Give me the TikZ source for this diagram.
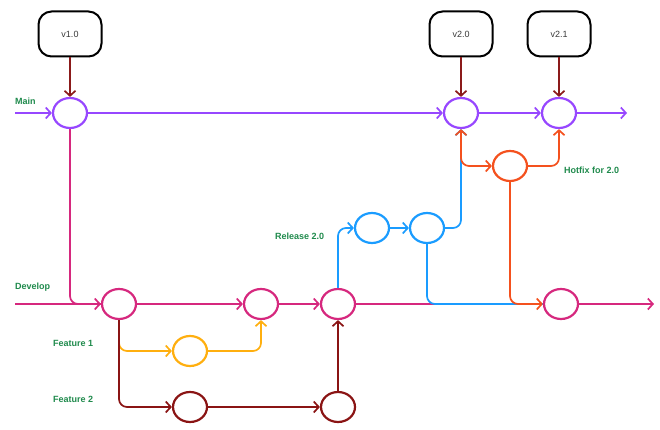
\documentclass[tikz,border=0pt]{standalone}
\usepackage{fontspec}
\setmainfont{Liberation Sans}
\usetikzlibrary{shapes.geometric,arrows.meta}
\definecolor{cmain}{HTML}{9747FF}
\definecolor{cdev}{HTML}{D6287E}
\definecolor{crel}{HTML}{1A9CFF}
\definecolor{cfa}{HTML}{FFAF0F}
\definecolor{cfb}{HTML}{8A1414}
\definecolor{chot}{HTML}{F4511E}
\definecolor{ctag}{HTML}{8B1A1A}
\definecolor{clab}{HTML}{1F8A4C}
\tikzset{
  commit/.style={ellipse,draw,line width=2.2pt,minimum width=34pt,minimum height=30pt,inner sep=0pt,fill=white},
  tagbox/.style={draw=black,line width=2pt,rounded corners=13pt,minimum width=63pt,minimum height=45pt,text=black!78,font=\fontsize{9}{10}\selectfont},
  lab/.style={anchor=west,text=clab,font=\bfseries\fontsize{9}{10}\selectfont,inner sep=0pt},
  tip/.style={-{Straight Barb[length=5pt,width=11pt,line width=1.7pt]}},
  bothtips/.style={{Straight Barb[length=5pt,width=11pt,line width=1.7pt]}-{Straight Barb[length=5pt,width=11pt,line width=1.7pt]}},
  ln/.style={line width=1.7pt,rounded corners=8pt},
}
\begin{document}
\begin{tikzpicture}[x=1pt,y=-1pt]
\useasboundingbox (0,0) rectangle (660,430);
% tags
\node[tagbox] (t1) at (70,34) {v1.0};
\node[tagbox] (t2) at (461,34) {v2.0};
\node[tagbox] (t3) at (559,34) {v2.1};
% main
\coordinate (ms) at (15,113);
\coordinate (me) at (627,113);
\node[commit,draw=cmain] (m1) at (70,113) {};
\node[commit,draw=cmain] (m2) at (461,113) {};
\node[commit,draw=cmain] (m3) at (559,113) {};
% hotfix
\node[commit,draw=chot] (hf) at (510,166) {};
% release
\node[commit,draw=crel] (r1) at (372,228) {};
\node[commit,draw=crel] (r2) at (427,228) {};
% develop
\coordinate (ds) at (15,304);
\coordinate (de) at (654,304);
\node[commit,draw=cdev] (d1) at (119,304) {};
\node[commit,draw=cdev] (d2) at (261,304) {};
\node[commit,draw=cdev] (d3) at (338,304) {};
\node[commit,draw=cdev] (d4) at (561,304) {};
% features
\node[commit,draw=cfa] (f1) at (190,351) {};
\node[commit,draw=cfb] (f2) at (190,407) {};
\node[commit,draw=cfb] (f3) at (338,407) {};
% labels
\node[lab] (lmain) at (15,101) {Main};
\node[lab] (ldev) at (15,287) {Develop};
\node[lab] (lf1) at (53,343) {Feature 1};
\node[lab] (lf2) at (53,399) {Feature 2};
\node[lab] (lrel) at (275,236) {Release 2.0};
\node[lab] (lhf) at (564,170) {Hotfix for 2.0};
% tag arrows
\draw[ln,tip,ctag] (t1.south) -- (m1.north);
\draw[ln,tip,ctag] (t2.south) -- (m2.north);
\draw[ln,tip,ctag] (t3.south) -- (m3.north);
% main line
\draw[ln,tip,cmain] (ms) -- (m1.west);
\draw[ln,tip,cmain] (m1.east) -- (m2.west);
\draw[ln,tip,cmain] (m2.east) -- (m3.west);
\draw[ln,tip,cmain] (m3.east) -- (me);
% develop line
\draw[ln,cdev] (m1.south) |- (d1.west);
\draw[ln,tip,cdev] (ds) -- (d1.west);
\draw[ln,tip,cdev] (d1.east) -- (d2.west);
\draw[ln,tip,cdev] (d2.east) -- (d3.west);
\draw[ln,cdev] (d3.east) -- (d4.west);
\draw[ln,tip,cdev] (d4.east) -- (de);
% features
\draw[ln,tip,cfa] (d1.south) |- (f1.west);
\draw[ln,tip,cfa] (f1.east) -| (d2.south);
\draw[ln,tip,cfb] (d1.south) |- (f2.west);
\draw[ln,tip,cfb] (f2.east) -- (f3.west);
\draw[ln,tip,cfb] (f3.north) -- (d3.south);
% release
\draw[ln,tip,crel] (d3.north) |- (r1.west);
\draw[ln,tip,crel] (r1.east) -- (r2.west);
\draw[ln,tip,crel] (r2.east) -| (m2.south);
\draw[ln,crel] (r2.south) |- (d4.west);
% hotfix
\draw[ln,bothtips,chot] (m2.south) |- (hf.west);
\draw[ln,tip,chot] (hf.east) -| (m3.south);
\draw[ln,tip,chot] (hf.south) |- (d4.west);
\end{tikzpicture}
\end{document}
